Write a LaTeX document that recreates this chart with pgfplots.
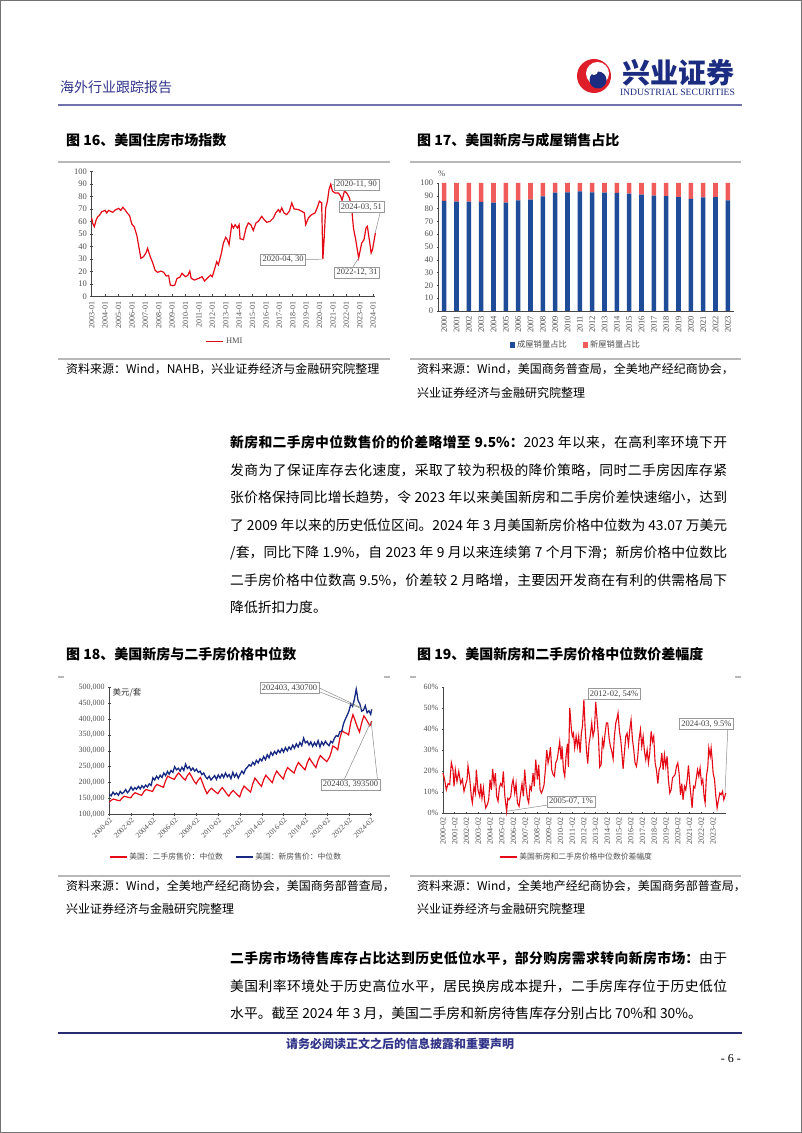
\documentclass[border=0pt]{standalone}
\usepackage{fontspec}
\usepackage{graphicx}
\usepackage{pgfplots}
\usepackage{pgfplotstable}
\pgfplotsset{compat=1.18}
\setmainfont{Noto Sans CJK SC}
\newfontfamily\tnr{Liberation Serif}
\XeTeXlinebreaklocale "zh"
\XeTeXlinebreakskip=0pt plus 1pt

\definecolor{hmired}{RGB}{228,10,22}
\definecolor{navyline}{RGB}{22,40,130}
\definecolor{barblue}{RGB}{30,76,152}
\definecolor{barred}{RGB}{240,92,92}
\definecolor{hdrblue}{RGB}{50,52,138}
\definecolor{footnavy}{RGB}{40,44,110}
\definecolor{logoblue}{RGB}{28,44,128}
\definecolor{logored}{RGB}{222,30,40}
\definecolor{axgray}{RGB}{70,70,70}
\definecolor{ticktext}{RGB}{80,80,80}

\pgfplotsset{
  rep/.style={
    scale only axis, clip=false,
    axis x line=bottom, axis y line=left,
    axis line style={-, draw=axgray, line width=0.7pt},
    tick style={draw=axgray, line width=0.5pt},
    major tick length=2.5pt,
    tick label style={font=\tnr\fontsize{8.5}{9}\selectfont, text=ticktext},
    /pgf/number format/assume math mode=true,
    legend style={draw=none, fill=none, font=\fontsize{8}{9}\selectfont, text=ticktext},
    legend cell align=left,
  },
}
\tikzset{leader/.style={draw=black!45, line width=0.5pt},
  annot/.style={draw=black!40, fill=white, font=\tnr\fontsize{8.5}{9}\selectfont, text=black!75, inner sep=2pt}}

\newcommand\jline[2]{\node[anchor=west, inner sep=0pt, text width=497pt, align=justify, font=\fontsize{13.8}{16}\selectfont] at (230,#1) {\noindent\tolerance=9999\parfillskip=0pt #2\par};}
\newcommand\rline[2]{\node[anchor=west, inner sep=0pt, font=\fontsize{13.8}{16}\selectfont] at (230,#1) {#2};}

\pgfplotstableread{
x y
2003.00 63
2003.07 58.7
2003.20 56
2003.32 61
2003.45 64
2003.57 65
2003.75 68
2004.00 69
2004.12 67
2004.25 69
2004.37 68.5
2004.57 67.5
2004.75 69.3
2005.00 70.7
2005.17 69
2005.32 71.5
2005.50 69.3
2005.67 66.7
2005.82 65
2006.00 58
2006.17 56
2006.37 49
2006.50 41
2006.67 30.7
2006.87 32
2007.07 35.5
2007.17 38.7
2007.37 32
2007.54 27.5
2007.74 21
2007.92 19.5
2008.17 20.5
2008.37 19.5
2008.57 16.5
2008.74 17
2008.87 9.3
2009.05 8.8
2009.20 9.3
2009.37 14.7
2009.57 15.5
2009.74 18.7
2009.99 16
2010.17 17
2010.32 20.5
2010.42 14.7
2010.67 13.3
2010.99 14.7
2011.24 16
2011.42 12.5
2011.62 14.7
2011.87 17.3
2012.00 16
2012.15 21.4
2012.33 28
2012.45 25.5
2012.65 33.5
2012.83 43
2013.00 47.5
2013.12 45.6
2013.25 41.6
2013.45 57.6
2013.58 55
2013.70 57.6
2013.87 55
2014.00 57.6
2014.07 46.4
2014.32 45.6
2014.52 55
2014.69 59
2014.87 57.6
2015.06 53
2015.26 59
2015.44 60.3
2015.69 64.3
2015.86 61.7
2016.06 59.5
2016.31 60.3
2016.56 63
2016.73 67
2016.93 69.7
2017.05 67.6
2017.18 71
2017.35 67
2017.55 65.7
2017.75 68.4
2017.93 75
2018.10 70.2
2018.42 69.7
2018.67 68.4
2018.87 67
2018.97 57.6
2019.17 63
2019.42 65.7
2019.67 67
2019.87 72.4
2019.99 76.4
2020.16 75
2020.25 30
2020.34 45.6
2020.46 71
2020.59 76.4
2020.71 85.8
2020.84 90
2020.96 84.5
2021.16 83
2021.41 83
2021.58 80.4
2021.68 77
2021.86 84.5
2022.03 83
2022.23 79
2022.40 71
2022.53 55
2022.70 45.6
2022.92 31
2023.15 43
2023.32 45.6
2023.47 55
2023.57 56.3
2023.77 41.6
2023.85 34.9
2023.95 37.5
2024.17 51
}\hmidata

\pgfplotstableread{
x existing
2000 86
2001 85.4
2002 85.4
2003 85.2
2004 84.6
2005 84.6
2006 86.5
2007 87
2008 89.6
2009 92.4
2010 92.7
2011 93.5
2012 92.7
2013 92.4
2014 92.2
2015 91.7
2016 90.9
2017 90.1
2018 89.8
2019 89
2020 87.5
2021 88.8
2022 89
2023 86.5
}\existingdata

\pgfplotstableread{
x new
2000 14
2001 14.6
2002 14.6
2003 14.8
2004 15.4
2005 15.4
2006 13.5
2007 13
2008 10.4
2009 7.6
2010 7.3
2011 6.5
2012 7.3
2013 7.6
2014 7.8
2015 8.3
2016 9.1
2017 9.9
2018 10.2
2019 11
2020 12.5
2021 11.2
2022 11
2023 13.5
}\newdata

\pgfplotstableread{
x y
2000.08 139
2000.25 144
2000.45 148
2000.65 146
2000.85 144
2001.05 143
2001.25 151
2001.45 157
2001.65 155
2001.85 153
2002.05 152
2002.25 162
2002.45 168
2002.65 165
2002.85 162
2003.05 160
2003.25 171
2003.45 178
2003.65 176
2003.85 174
2004.05 172
2004.25 186
2004.45 194
2004.65 191
2004.85 188
2005.05 185
2005.25 206
2005.45 220
2005.65 216
2005.85 213
2006.05 210
2006.25 222
2006.45 230
2006.65 222
2006.85 214
2007.05 208
2007.25 222
2007.45 230
2007.65 218
2007.85 205
2008.05 196
2008.25 208
2008.45 216
2008.65 198
2008.85 180
2009.05 165
2009.25 175
2009.45 182
2009.65 176
2009.85 170
2010.05 165
2010.25 176
2010.45 184
2010.65 175
2010.85 165
2011.05 157
2011.25 168
2011.45 175
2011.65 168
2011.85 161
2012.05 155
2012.25 175
2012.45 189
2012.65 182
2012.85 176
2013.05 170
2013.25 196
2013.45 214
2013.65 205
2013.85 196
2014.05 188
2014.25 209
2014.45 223
2014.65 215
2014.85 207
2015.05 200
2015.25 222
2015.45 236
2015.65 227
2015.85 219
2016.05 211
2016.25 233
2016.45 247
2016.65 241
2016.85 235
2017.05 230
2017.25 250
2017.45 263
2017.65 255
2017.85 247
2018.05 240
2018.25 262
2018.45 277
2018.65 266
2018.85 256
2019.05 247
2019.25 270
2019.45 285
2019.65 278
2019.85 272
2020.05 266
2020.30 280
2020.45 296
2020.60 315
2020.85 310
2021.05 303
2021.25 340
2021.45 363
2021.65 358
2021.85 355
2022.05 350
2022.25 390
2022.45 414
2022.65 395
2022.85 375
2023.05 359
2023.25 388
2023.45 410
2023.65 400
2023.85 388
2024.00 379
2024.08 384
2024.17 393.5
}\existingprice

\pgfplotstableread{
x y
2000.08 163
2000.25 158
2000.42 170
2000.58 162
2000.75 167
2000.92 160
2001.08 172
2001.25 165
2001.42 170
2001.58 178
2001.75 168
2001.92 175
2002.08 186
2002.25 176
2002.42 184
2002.58 179
2002.75 188
2002.92 180
2003.08 190
2003.25 183
2003.42 192
2003.58 186
2003.75 196
2003.92 191
2004.08 215
2004.25 208
2004.42 220
2004.58 212
2004.75 223
2004.92 216
2005.08 230
2005.25 222
2005.42 235
2005.58 226
2005.75 238
2005.92 232
2006.08 250
2006.25 240
2006.42 245
2006.58 236
2006.75 248
2006.92 238
2007.08 258
2007.25 244
2007.42 250
2007.58 238
2007.75 246
2007.92 236
2008.08 242
2008.25 232
2008.42 236
2008.58 225
2008.75 230
2008.92 218
2009.08 212
2009.25 220
2009.42 208
2009.58 215
2009.75 222
2009.92 210
2010.08 224
2010.25 214
2010.42 226
2010.58 216
2010.75 230
2010.92 218
2011.08 225
2011.25 212
2011.42 232
2011.58 218
2011.75 228
2011.92 214
2012.08 225
2012.25 236
2012.42 228
2012.58 242
2012.75 248
2012.92 256
2013.08 252
2013.25 264
2013.42 256
2013.58 270
2013.75 262
2013.92 275
2014.08 268
2014.25 282
2014.42 272
2014.58 288
2014.75 278
2014.92 295
2015.08 286
2015.25 298
2015.42 290
2015.58 302
2015.75 294
2015.92 306
2016.08 296
2016.25 310
2016.42 300
2016.58 312
2016.75 304
2016.92 318
2017.08 308
2017.25 322
2017.42 312
2017.58 326
2017.75 316
2017.92 340
2018.08 325
2018.25 330
2018.42 318
2018.58 328
2018.75 314
2018.92 326
2019.08 316
2019.25 332
2019.42 312
2019.58 328
2019.75 318
2019.92 330
2020.08 322
2020.25 316
2020.42 330
2020.58 325
2020.75 340
2020.92 348
2021.08 345
2021.25 360
2021.42 362
2021.58 385
2021.75 400
2021.92 412
2022.08 425
2022.25 448
2022.42 440
2022.58 462
2022.75 494
2022.83 478
2022.92 458
2023.08 448
2023.25 425
2023.42 428
2023.58 442
2023.75 420
2023.92 426
2024.08 415
2024.17 430.7
}\newprice

\pgfplotstableread{
x y
2000.08 19
2000.22 16
2000.36 11
2000.51 14
2000.65 13.5
2000.79 24
2000.93 20.6
2001.02 12.7
2001.13 20.6
2001.27 15
2001.42 19.8
2001.59 14
2001.73 16
2001.87 10.3
2002.01 13.5
2002.13 15.9
2002.21 22.5
2002.35 16.7
2002.49 7.9
2002.58 4.8
2002.72 12.7
2002.84 9.5
2002.92 20.6
2003.06 11
2003.21 7.9
2003.29 14
2003.40 7
2003.52 12
2003.63 5.6
2003.72 2.4
2003.86 4
2003.97 6.3
2004.09 15.9
2004.20 11
2004.31 21
2004.43 14
2004.54 19
2004.65 7.9
2004.77 5.6
2004.88 12
2004.99 14
2005.11 12.7
2005.22 19.8
2005.35 7.9
2005.50 0.8
2005.60 7
2005.70 6.3
2005.85 7.9
2005.95 13.5
2006.05 15.9
2006.19 9.5
2006.30 14
2006.42 4.8
2006.56 3.2
2006.70 9.5
2006.81 14
2006.93 7.9
2007.04 20.6
2007.15 12.7
2007.27 7
2007.38 4.8
2007.49 12.7
2007.61 11
2007.75 19
2007.86 12.7
2007.98 25.4
2008.12 15.9
2008.23 23
2008.35 11
2008.46 9.5
2008.57 11
2008.69 13.5
2008.80 20.6
2008.92 30
2009.03 23.8
2009.14 27
2009.23 31.4
2009.34 20.6
2009.46 18.3
2009.57 17.5
2009.68 23.8
2009.80 25.4
2009.91 29.4
2010.02 34
2010.14 25.4
2010.22 31.7
2010.34 20.6
2010.45 17.5
2010.56 27
2010.68 33
2010.76 22
2010.88 50
2011.02 39.7
2011.10 36.5
2011.19 38
2011.30 31
2011.42 36.5
2011.53 31.7
2011.64 36.5
2011.76 28.6
2011.87 38
2011.96 41.3
2012.08 54
2012.18 41.3
2012.30 30
2012.41 23.5
2012.52 33
2012.64 37.3
2012.75 42.9
2012.86 36.5
2012.98 39.7
2013.09 52.9
2013.21 44.4
2013.32 36.5
2013.43 21.9
2013.55 23
2013.66 35
2013.77 31.7
2013.89 38
2014.00 42.9
2014.11 42.9
2014.23 35.7
2014.34 31.7
2014.46 29.4
2014.57 25.7
2014.68 36.5
2014.80 42.9
2014.91 45.2
2014.99 47.6
2015.11 38.9
2015.22 35
2015.34 27
2015.42 21
2015.53 28.6
2015.65 36.5
2015.76 38
2015.88 32.5
2015.99 39.7
2016.10 44.4
2016.22 35
2016.33 30
2016.44 23.8
2016.56 22.2
2016.67 27
2016.78 35
2016.90 39.7
2017.01 31.7
2017.13 36.5
2017.24 29.4
2017.35 25.4
2017.47 30
2017.58 23.8
2017.69 28.6
2017.81 38.9
2017.92 34
2018.03 36.5
2018.15 23.8
2018.26 20.6
2018.38 14
2018.49 20.6
2018.60 22.2
2018.72 28.6
2018.83 20.6
2018.94 27.8
2019.06 22.2
2019.17 27
2019.28 15.9
2019.40 9.5
2019.51 11
2019.63 16.7
2019.74 17.5
2019.85 18.3
2019.97 22.2
2020.08 23.8
2020.19 19
2020.31 8.7
2020.42 14
2020.53 6.3
2020.65 12.7
2020.76 11
2020.88 15.9
2020.99 22.7
2021.10 14
2021.22 7
2021.30 2.4
2021.42 12.7
2021.53 11.9
2021.64 15.9
2021.76 20.6
2021.87 17.5
2021.98 21.4
2022.10 14
2022.21 15.9
2022.32 7.9
2022.41 4.8
2022.52 17.5
2022.64 22.2
2022.72 31
2022.84 27
2022.92 31
2023.01 25.4
2023.09 19
2023.21 15.9
2023.32 7.9
2023.43 2.4
2023.55 6.3
2023.66 9.5
2023.77 8.7
2023.89 10.3
2024.00 6.3
2024.17 9.5
}\gapdata

\begin{document}
\begin{tikzpicture}[x=1pt,y=1pt]
\useasboundingbox (0,0) rectangle (802,1133);
\fill[white] (0,0) rectangle (802,1133);
\draw[black!55, line width=1pt] (0.5,0.5) rectangle (801.5,1132.5);

% ---------- header ----------
\node[anchor=west, inner sep=0pt, text=hdrblue, font=\fontsize{14}{14}\selectfont] at (60,1046) {海外行业跟踪报告};
\fill[logored] (594,1057) circle (17);
\fill[white] (597.5,1059.5) circle (11.5);
\fill[logoblue] (598,1053) circle (8.5);
\fill[white] (594,1062) circle (4);
\node[anchor=center, inner sep=0pt, text=logoblue, font=\bfseries\fontsize{28}{28}\selectfont] at (678,1060) {兴业证券};
\node[anchor=center, inner sep=0pt, text=logoblue] at (677.5,1041) {\resizebox{115pt}{!}{\tnr INDUSTRIAL SECURITIES}};
\draw[color=hdrblue!70, line width=1.2pt] (58,1028) -- (742,1028);

% ---------- figure titles 16 / 17 ----------
\node[anchor=west, inner sep=0pt, font=\bfseries\fontsize{14}{14}\selectfont] at (66,993) {图 16、美国住房市场指数};
\node[anchor=west, inner sep=0pt, font=\bfseries\fontsize{14}{14}\selectfont] at (417,993) {图 17、美国新房与成屋销售占比};
\draw[black!28, line width=1.6pt] (58,971) -- (390,971);
\draw[black!28, line width=1.6pt] (410,971) -- (741,971);
\draw[black!28, line width=1.6pt] (58,774) -- (390,774);
\draw[black!28, line width=1.6pt] (410,774) -- (741,774);

% ---------- Chart 16: HMI ----------
\begin{axis}[rep, at={(91.7pt,836.3pt)}, anchor=south west,
  width=283.7pt, height=125pt,
  xmin=2003, xmax=2024.17, ymin=0, ymax=100,
  ytick={0,10,...,100},
  xtick={2003,2004,2005,2006,2007,2008,2009,2010,2011,2012,2013,2014,2015,2016,2017,2018,2019,2020,2021,2022,2023,2024},
  xticklabels={2003-01,2004-01,2005-01,2006-01,2007-01,2008-01,2009-01,2010-01,2011-01,2012-01,2013-01,2014-01,2015-01,2016-01,2017-01,2018-01,2019-01,2020-01,2021-01,2022-01,2023-01,2024-01},
  xticklabel style={rotate=90, anchor=east, font=\tnr\fontsize{8}{8}\selectfont},
  x tick style={yshift=1.25pt},
  legend style={at={(0.47,-0.36)}, anchor=center, font=\tnr\fontsize{8.5}{9}\selectfont},
  legend image post style={draw=hmired, line width=1.4pt},
]
\addplot[hmired, line width=1.2pt] table[x=x,y=y] {\hmidata};
\addlegendentry{HMI}
\node[annot] (a1) at (axis cs:2022.76,89.8) {2020-11, 90};
\draw[leader] (axis cs:2020.9,90) -- (a1.west);
\node[annot] (a2) at (axis cs:2023.13,71.8) {2024-03, 51};
\draw[leader] ([xshift=-4pt]a2.south east) -- (axis cs:2024.15,51);
\node[annot] (a3) at (axis cs:2017.28,29.8) {2020-04, 30};
\draw[leader] (a3.east) -- (axis cs:2020.22,30);
\node[annot] (a4) at (axis cs:2022.8,19.4) {2022-12, 31};
\draw[leader] ([xshift=-4pt]a4.north) -- (axis cs:2022.92,31);
\end{axis}

% ---------- Chart 17: stacked bars ----------
\begin{axis}[rep, at={(438pt,822pt)}, anchor=south west,
  width=296pt, height=128pt,
  ybar stacked, bar width=4.6pt,
  xmin=1999.5, xmax=2023.5, ymin=0, ymax=100,
  ytick={0,10,...,100},
  xtick={2000,2001,2002,2003,2004,2005,2006,2007,2008,2009,2010,2011,2012,2013,2014,2015,2016,2017,2018,2019,2020,2021,2022,2023},
  xticklabels={2000,2001,2002,2003,2004,2005,2006,2007,2008,2009,2010,2011,2012,2013,2014,2015,2016,2017,2018,2019,2020,2021,2022,2023},
  xticklabel style={rotate=90, anchor=east, font=\tnr\fontsize{8.5}{8.5}\selectfont},
  x tick style={draw=none},
  legend columns=2,
  legend style={at={(0.466,-0.266)}, anchor=center, font=\fontsize{8.3}{9}\selectfont, /tikz/every even column/.append style={column sep=14pt}},
  legend image code/.code={\fill[#1] (0pt,-2.6pt) rectangle (5.2pt,2.6pt);},
]
\addplot[fill=barblue, draw=none] table[x=x,y=existing] {\existingdata};
\addlegendentry{成屋销量占比}
\addplot[fill=barred, draw=none] table[x=x,y=new] {\newdata};
\addlegendentry{新屋销量占比}
\node[anchor=south west, inner sep=0pt, font=\tnr\fontsize{8.5}{9}\selectfont, text=ticktext] at (rel axis cs:0.0,1.05) {\%};
\end{axis}

% ---------- sources 16 / 17 ----------
\node[anchor=west, inner sep=0pt, font=\fontsize{12}{12}\selectfont] at (66,764) {资料来源：Wind，NAHB，兴业证券经济与金融研究院整理};
\node[anchor=west, inner sep=0pt, font=\fontsize{12}{12}\selectfont] at (417,764) {资料来源：Wind，美国商务普查局，全美地产经纪商协会，};
\node[anchor=west, inner sep=0pt, font=\fontsize{12}{12}\selectfont] at (417,740) {兴业证券经济与金融研究院整理};

% ---------- body paragraph 1 ----------
\jline{691}{{\bfseries 新房和二手房中位数售价的价差略增至 9.5\%：}2023 年以来，在高利率环境下开}
\jline{663}{发商为了保证库存去化速度，采取了较为积极的降价策略，同时二手房因库存紧}
\jline{636}{张价格保持同比增长趋势，令 2023 年以来美国新房和二手房价差快速缩小，达到}
\jline{608}{了 2009 年以来的历史低位区间。2024 年 3 月美国新房价格中位数为 43.07 万美元}
\jline{580}{/套，同比下降 1.9\%，自 2023 年 9 月以来连续第 7 个月下滑；新房价格中位数比}
\jline{553}{二手房价格中位数高 9.5\%，价差较 2 月略增，主要因开发商在有利的供需格局下}
\rline{526}{降低折扣力度。}

% ---------- figure titles 18 / 19 ----------
\node[anchor=west, inner sep=0pt, font=\bfseries\fontsize{14}{14}\selectfont] at (66,479) {图 18、美国新房与二手房价格中位数};
\node[anchor=west, inner sep=0pt, font=\bfseries\fontsize{14}{14}\selectfont] at (417,479) {图 19、美国新房和二手房价格中位数价差幅度};
\draw[black!28, line width=1.6pt] (58,456) -- (64,456);
\draw[black!28, line width=1.6pt] (384,456) -- (390,456);
\draw[black!28, line width=1.6pt] (410,456) -- (416,456);
\draw[black!28, line width=1.6pt] (735,456) -- (741,456);
\draw[black!28, line width=1.6pt] (58,257) -- (390,257);
\draw[black!28, line width=1.6pt] (410,257) -- (741,257);

% ---------- Chart 18: prices ----------
\begin{axis}[rep, at={(109.3pt,318.7pt)}, anchor=south west,
  width=262.4pt, height=127pt,
  xmin=2000.08, xmax=2024.17, ymin=100, ymax=500,
  ytick={100,150,200,250,300,350,400,450,500},
  yticklabels={{100,000},{150,000},{200,000},{250,000},{300,000},{350,000},{400,000},{450,000},{500,000}},
  xtick={2000.08,2002.08,2004.08,2006.08,2008.08,2010.08,2012.08,2014.08,2016.08,2018.08,2020.08,2022.08,2024.08},
  xticklabels={2000-02,2002-02,2004-02,2006-02,2008-02,2010-02,2012-02,2014-02,2016-02,2018-02,2020-02,2022-02,2024-02},
  xticklabel style={rotate=45, anchor=north east, inner sep=1pt, font=\tnr\fontsize{7.5}{7.5}\selectfont},
  yticklabel style={font=\tnr\fontsize{8}{8}\selectfont},
  legend columns=2,
  legend style={at={(0.445,-0.336)}, anchor=center, font=\fontsize{7.8}{9}\selectfont, /tikz/every even column/.append style={column sep=10pt}},
]
\addplot[hmired, line width=1.2pt] table[x=x,y=y] {\existingprice};
\addlegendentry{美国：二手房售价：中位数}
\addplot[navyline, line width=1.3pt] table[x=x,y=y] {\newprice};
\addlegendentry{美国：新房售价：中位数}
\node[anchor=west, inner sep=0pt, font=\fontsize{8.5}{9}\selectfont, text=black!80] at (rel axis cs:0.012,0.955) {美元/套};
\node[annot] (b1) at (axis cs:2016.63,497.8) {202403, 430700};
\draw[leader] (b1.east) -- (axis cs:2023.3,434);
\draw[leader] ([yshift=2pt]b1.south east) -- (axis cs:2023.3,432);
\node[annot] (b2) at (axis cs:2022.23,193.9) {202403, 393500};
\draw[leader] ([xshift=-6pt]b2.north) -- (axis cs:2024.1,392);
\draw[leader] ([xshift=-3pt]b2.north east) -- (axis cs:2024.12,391);
\end{axis}

% ---------- Chart 19: gap ----------
\begin{axis}[rep, at={(443pt,320pt)}, anchor=south west,
  width=282.8pt, height=126pt,
  xmin=2000.08, xmax=2024.17, ymin=0, ymax=60,
  ytick={0,10,20,30,40,50,60},
  yticklabels={0\%,10\%,20\%,30\%,40\%,50\%,60\%},
  xtick={2000.08,2001.08,2002.08,2003.08,2004.08,2005.08,2006.08,2007.08,2008.08,2009.08,2010.08,2011.08,2012.08,2013.08,2014.08,2015.08,2016.08,2017.08,2018.08,2019.08,2020.08,2021.08,2022.08,2023.08},
  xticklabels={2000-02,2001-02,2002-02,2003-02,2004-02,2005-02,2006-02,2007-02,2008-02,2009-02,2010-02,2011-02,2012-02,2013-02,2014-02,2015-02,2016-02,2017-02,2018-02,2019-02,2020-02,2021-02,2022-02,2023-02},
  xticklabel style={rotate=90, anchor=east, font=\tnr\fontsize{8}{8}\selectfont},
  yticklabel style={font=\tnr\fontsize{8}{8}\selectfont},
  legend style={at={(0.472,-0.35)}, anchor=center, font=\fontsize{7.8}{9}\selectfont},
  legend image post style={draw=hmired, line width=1.4pt},
]
\addplot[hmired, line width=1.1pt] table[x=x,y=y] {\gapdata};
\addlegendentry{美国新房和二手房价格中位数价差幅度}
\node[annot] (c1) at (axis cs:2014.65,56.7) {2012-02, 54\%};
\draw[leader] (c1.south west) -- (axis cs:2012.08,54);
\node[annot] (c2) at (axis cs:2010.98,5.5) {2005-07, 1\%};
\draw[leader] ([yshift=2pt]c2.south west) -- (axis cs:2005.5,0.8);
\node[annot] (c3) at (axis cs:2022.52,42.4) {2024-03, 9.5\%};
\draw[leader] ([xshift=-6pt]c3.south east) -- (axis cs:2024.1,9.5);
\end{axis}

% ---------- sources 18 / 19 ----------
\node[anchor=west, inner sep=0pt, font=\fontsize{12}{12}\selectfont] at (66,247) {资料来源：Wind，全美地产经纪商协会，美国商务部普查局，};
\node[anchor=west, inner sep=0pt, font=\fontsize{12}{12}\selectfont] at (66,224) {兴业证券经济与金融研究院整理};
\node[anchor=west, inner sep=0pt, font=\fontsize{12}{12}\selectfont] at (417,247) {资料来源：Wind，全美地产经纪商协会，美国商务部普查局，};
\node[anchor=west, inner sep=0pt, font=\fontsize{12}{12}\selectfont] at (417,224) {兴业证券经济与金融研究院整理};

% ---------- body paragraph 2 ----------
\jline{174.7}{{\bfseries 二手房市场待售库存占比达到历史低位水平，部分购房需求转向新房市场：}由于}
\jline{147}{美国利率环境处于历史高位水平，居民换房成本提升，二手房库存位于历史低位}
\rline{119.7}{水平。截至 2024 年 3 月，美国二手房和新房待售库存分别占比 70\%和 30\%。}

% ---------- footer ----------
\draw[footnavy, line width=2.4pt] (58,100) -- (742,100);
\node[anchor=center, inner sep=0pt, text=hdrblue, font=\bfseries\fontsize{12}{12}\selectfont] at (400,89) {请务必阅读正文之后的信息披露和重要声明};
\node[anchor=east, inner sep=0pt, font=\tnr\fontsize{12}{12}\selectfont] at (741,74) {- 6 -};
\end{tikzpicture}
\end{document}
